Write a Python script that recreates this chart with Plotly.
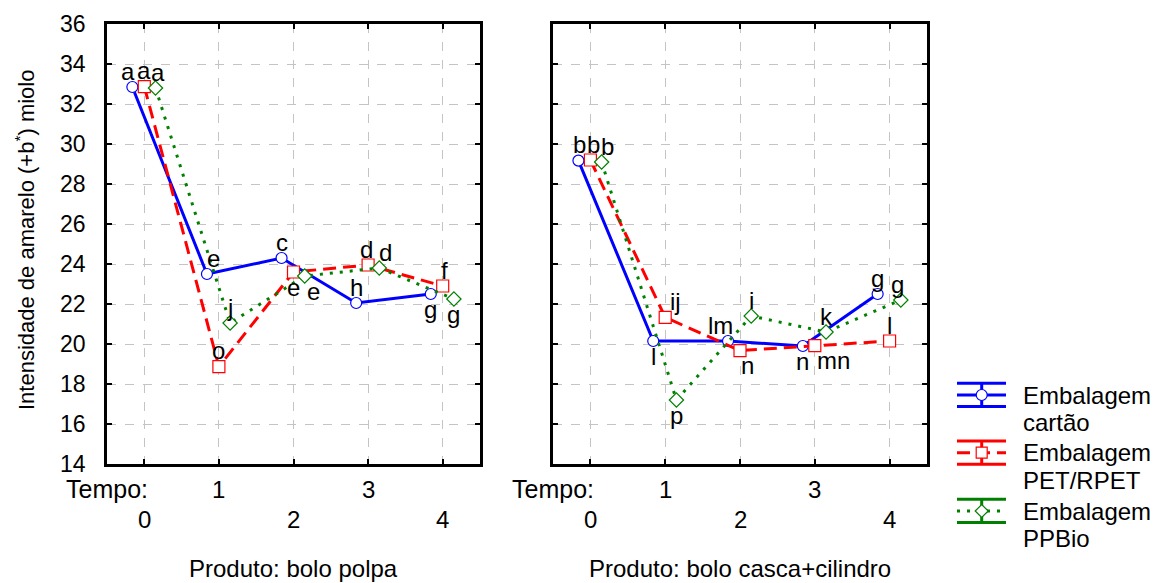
import plotly.graph_objects as go

# Tempo (days) and mean yellow intensity values
tempo = [0, 1, 2, 3, 4]

polpa_cartao = [32.85, 23.5, 24.3, 22.05, 22.5]
polpa_pet = [32.87, 18.87, 23.6, 23.95, 22.9]
polpa_ppbio = [32.8, 21.05, 23.4, 23.8, 22.25]

casca_cartao = [29.17, 20.15, 20.15, 19.9, 22.5]
casca_pet = [29.2, 21.33, 19.67, 19.92, 20.15]
casca_ppbio = [29.1, 17.2, 21.4, 20.6, 22.2]

polpa_cartao_let = ["a", "e", "c", "h", "g"]
polpa_pet_let = ["a", "o", "e", "d", "f"]
polpa_ppbio_let = ["a", "j", "e", "d", "g"]
casca_cartao_let = ["b", "l", "lm", "n", "g"]
casca_pet_let = ["b", "ij", "n", "mn", "l"]
casca_ppbio_let = ["b", "p", "i", "k", "g"]

series_names = ["cartão", "PET/RPET", "PPBio"]
produtos = ["Produto: bolo polpa", "Produto: bolo casca+cilindro"]

# page body has an 8px margin, so the figure is offset by it
OFF = 8
W, H = 1171 - OFF, 583 - OFF
FONT = "Liberation Sans, Arial, sans-serif"


def px(x):
    return (x - OFF) / W


def py(y):
    return 1 - (y - OFF) / H


BLUE, RED, GREEN = "#0000FF", "#FF0000", "#008000"
styles = [
    dict(color=BLUE, dash="solid", symbol="circle", size=11, off=-0.16),
    dict(color=RED, dash="13px,7px", symbol="square", size=12, off=0.0),
    dict(color=GREEN, dash="3px,7px", symbol="diamond", size=11, off=0.15),
]

# label placement: (x shift px, +1 above / -1 below)
U, D = 1, -1
label_place = {
    ("x", 0): [(-4, U), (7, U), (0, U), (0, U), (0, D)],
    ("x", 1): [(0, U), (0, U), (0, D), (-2, U), (2, U)],
    ("x", 2): [(3, U), (0, U), (9, D), (6, U), (0, D)],
    ("x2", 0): [(1, U), (0, D), (-8, U), (0, D), (0, U)],
    ("x2", 1): [(3, U), (10, U), (7, D), (19, D), (0, U)],
    ("x2", 2): [(6, U), (0, D), (0, U), (0, U), (-3, U)],
}

panels = [
    ("x", "y", [polpa_cartao, polpa_pet, polpa_ppbio],
     [polpa_cartao_let, polpa_pet_let, polpa_ppbio_let]),
    ("x2", "y2", [casca_cartao, casca_pet, casca_ppbio],
     [casca_cartao_let, casca_pet_let, casca_ppbio_let]),
]

fig = go.Figure()
ann = []
for xa, ya, vals, lets in panels:
    for i, (v, l) in enumerate(zip(vals, lets)):
        st = styles[i]
        xs = [t + st["off"] for t in tempo]
        fig.add_trace(go.Scatter(
            x=xs, y=v, mode="lines+markers",
            line=dict(color=st["color"], width=3, dash=st["dash"]),
            marker=dict(symbol=st["symbol"], size=st["size"], color="white",
                        line=dict(color=st["color"], width=1.2)),
            xaxis=xa, yaxis=ya, showlegend=False, cliponaxis=False,
        ))
        for xv, yv, txt, (dx, side) in zip(xs, v, l, label_place[(xa, i)]):
            ann.append(dict(x=xv, y=yv, xref=xa, yref=ya, text=txt,
                            xanchor="center", yanchor="middle",
                            xshift=dx, yshift=16 if side > 0 else -15,
                            showarrow=False, font=dict(size=24)))

axis_common = dict(
    showline=True, linecolor="black", linewidth=2.5, mirror="ticks",
    ticks="inside", ticklen=5, tickwidth=2, tickcolor="black",
    showgrid=True, gridcolor="#c4c4c4", griddash="dash", gridwidth=1,
    zeroline=False, automargin=False,
)
xdom1 = [px(107), px(480)]
xdom2 = [px(553), px(927)]
ydom = [py(464), py(24)]

fig.update_layout(
    width=W, height=H, margin=dict(l=0, r=0, t=0, b=0),
    paper_bgcolor="white", plot_bgcolor="white",
    font=dict(family=FONT, size=20, color="black"),
    xaxis=dict(domain=xdom1, range=[-0.5, 4.5], tickvals=tempo,
               showticklabels=False, anchor="y", **axis_common),
    xaxis2=dict(domain=xdom2, range=[-0.5, 4.5], tickvals=tempo,
                showticklabels=False, anchor="y2", **axis_common),
    yaxis=dict(domain=ydom, range=[14, 36], dtick=2, anchor="x",
               ticklabelstandoff=14, tickfont=dict(size=23), **axis_common),
    yaxis2=dict(domain=ydom, range=[14, 36], dtick=2, anchor="x2",
                showticklabels=False, **axis_common),
)

# y axis title
ann.append(dict(x=px(25), y=py(240), xref="paper", yref="paper",
                xanchor="center", yanchor="middle",
                text="Intensidade de amarelo (+b<sup>*</sup>) miolo",
                textangle=-90, showarrow=False, font=dict(size=22)))
# staggered x tick labels + Tempo + Produto
for xa, dom, prod in [("x", xdom1, produtos[0]), ("x2", xdom2, produtos[1])]:
    ann.append(dict(x=dom[0], y=py(489), xref="paper", yref="paper",
                    xanchor="center", yanchor="middle",
                    text="Tempo:", showarrow=False, font=dict(size=25)))
    for t in tempo:
        ann.append(dict(x=t, y=py(489 if t % 2 else 519), xref=xa, yref="paper",
                        xanchor="center", yanchor="middle",
                        text=str(t), showarrow=False, font=dict(size=24)))
    ann.append(dict(x=2, y=py(568), xref=xa, yref="paper", text=prod,
                    xanchor="center", yanchor="middle",
                    showarrow=False, font=dict(size=24)))

# custom legend with error-bar style glyphs
shapes = []
leg_mid = [395, 452.7, 511]
for st, name, mid in zip(styles, series_names, leg_mid):
    c = st["color"]
    for yy in (mid - 11.7, mid + 11.5):
        shapes.append(dict(type="line", xref="paper", yref="paper",
                           x0=px(957), x1=px(1006), y0=py(yy), y1=py(yy),
                           line=dict(color=c, width=3)))
    shapes.append(dict(type="line", xref="paper", yref="paper",
                       x0=px(981.7), x1=px(981.7), y0=py(mid - 11.7), y1=py(mid + 11.5),
                       line=dict(color=c, width=3)))
    shapes.append(dict(type="line", xref="paper", yref="paper",
                       x0=px(957), x1=px(1006), y0=py(mid), y1=py(mid),
                       line=dict(color=c, width=3, dash=st["dash"])))
    r = 5.5
    if st["symbol"] == "circle":
        shapes.append(dict(type="circle", xref="paper", yref="paper",
                           x0=px(981.7 - r), x1=px(981.7 + r), y0=py(mid + r), y1=py(mid - r),
                           fillcolor="white", line=dict(color=c, width=1.2)))
    elif st["symbol"] == "square":
        shapes.append(dict(type="rect", xref="paper", yref="paper",
                           x0=px(981.7 - r), x1=px(981.7 + r), y0=py(mid + r), y1=py(mid - r),
                           fillcolor="white", line=dict(color=c, width=1.2)))
    else:
        cx, cy, d = 981.7, mid, 6.5
        path = (f"M {px(cx - d)},{py(cy)} L {px(cx)},{py(cy - d)} "
                f"L {px(cx + d)},{py(cy)} L {px(cx)},{py(cy + d)} Z")
        shapes.append(dict(type="path", xref="paper", yref="paper", path=path,
                           fillcolor="white", line=dict(color=c, width=1.2)))
    ann.append(dict(x=px(1021), y=py(mid), xref="paper", yref="paper",
                    xanchor="left", yanchor="middle", text="Embalagem",
                    showarrow=False, font=dict(size=24)))
    ann.append(dict(x=px(1021), y=py(mid + 27.5), xref="paper", yref="paper",
                    xanchor="left", yanchor="middle", text=name,
                    showarrow=False, font=dict(size=24)))

fig.update_layout(annotations=ann, shapes=shapes)
fig.write_html("out.html")
